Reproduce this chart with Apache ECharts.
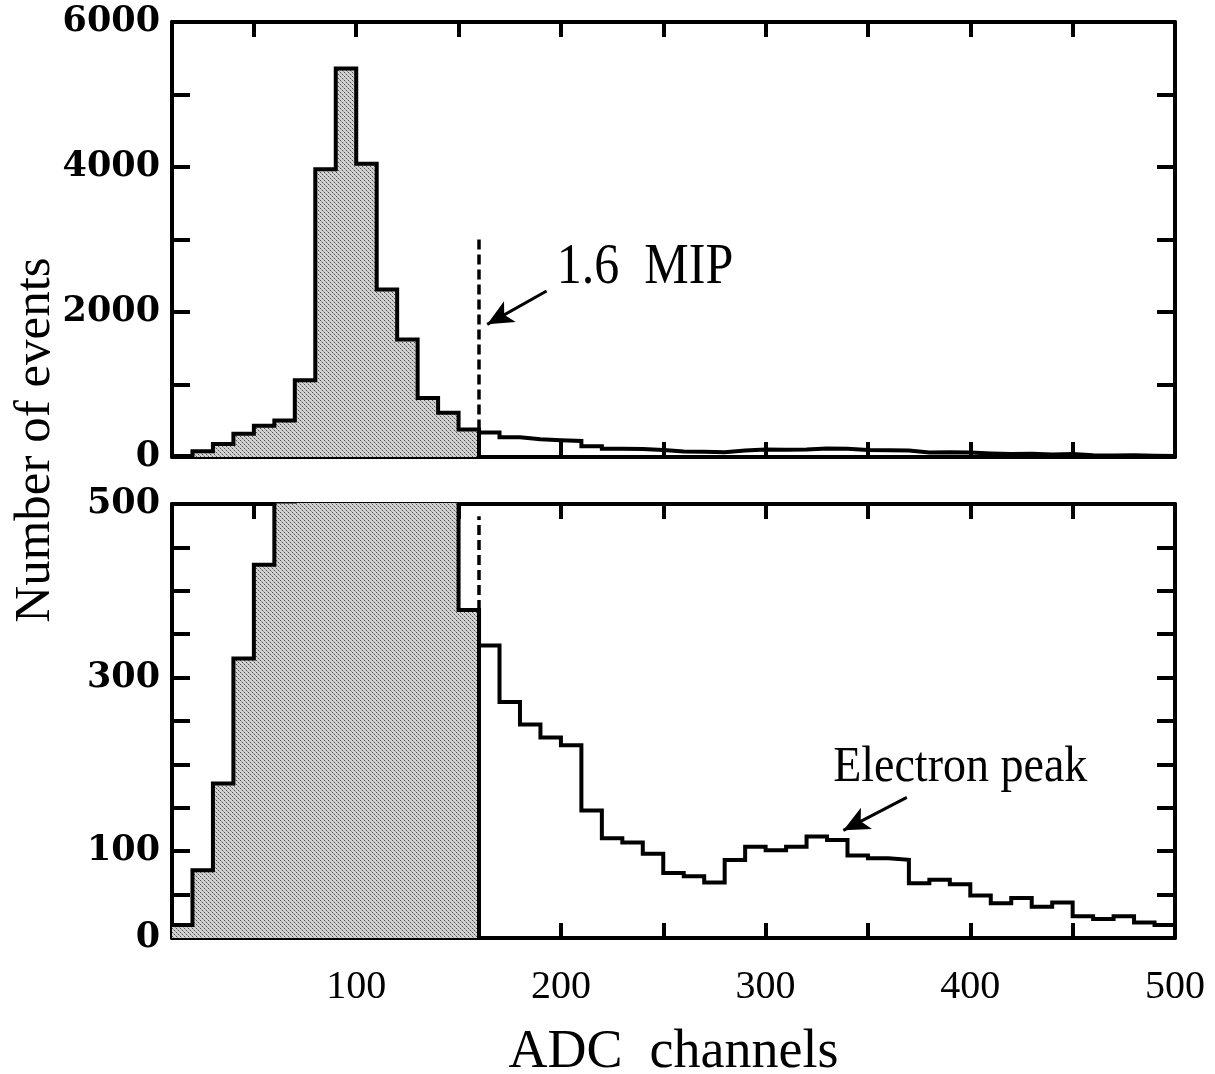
<!DOCTYPE html>
<html><head><meta charset="utf-8">
<script src="https://cdn.jsdelivr.net/npm/echarts@6/dist/echarts.min.js"></script>
<style>html,body{margin:0;padding:0;background:#fff}#c{width:1215px;height:1074px}</style>
</head><body><div id="c"></div>
<script>
// ---- data ----
const binLeft = [10,20,30,40,50,60,70,80,90,100,110,120,130,140,150,160,170,180,190,200,
  210,220,230,240,250,260,270,280,290,300,310,320,330,340,350,360,370,380,390,400,
  410,420,430,440,450,460,470,480,490];
const counts = [15,78,178,322,430,503,1057,3970,5360,4045,2310,1620,815,610,378,337,272,246,231,222,
  147,115,110,97,75,71,64,90,105,101,105,117,113,95,92,90,63,67,62,49,
  40,46,36,41,25,22,25,18,15];
const lastEdge = 500;
const cutChannel = 160;
const topDashEnd = 3000;
const bottomDashEnd = 486;
const xTickValues = [50,100,150,200,250,300,350,400,450,500];
const xLabelValues = [100,200,300,400,500];
const topYTicks = [0,1000,2000,3000,4000,5000,6000];
const topYLabels = [0,2000,4000,6000];
const bottomYTicks = [0,50,100,150,200,250,300,350,400,450,500];
const bottomYLabels = [0,100,300,500];
const mipText = '1.6  MIP';
const mipTextAt = [198, 2600];
const mipArrow = [[193, 2290], [164, 1830]];
const eText = 'Electron peak';
const eTextAt = [333, 197];
const eArrow = [[369, 162], [338, 124]];

// ---- build ----
const stepData = binLeft.map((x, i) => [x, counts[i]]).concat([[lastEdge, counts[counts.length - 1]]]);
const lastIn = binLeft.filter(x => x < cutChannel).length - 1;
const fillData = binLeft.slice(0, lastIn + 1).map((x, i) => [x, counts[i]]).concat([[cutChannel, counts[lastIn]]]);
const cutValue = counts[lastIn];

const pc = document.createElement('canvas'); pc.width = 4; pc.height = 4;
const g = pc.getContext('2d');
g.fillStyle = '#d2d2d2'; g.fillRect(0, 0, 4, 4);
g.fillStyle = '#4e4e4e'; g.fillRect(0, 0, 1, 1); g.fillRect(2, 2, 1, 1);
g.fillStyle = '#9a9a9a'; g.fillRect(1, 1, 1, 1); g.fillRect(3, 3, 1, 1);

const grids = [
  {left: 172, top: 22, width: 1003, height: 435, outerBoundsMode: 'none', containLabel: false},
  {left: 172, top: 504, width: 1003, height: 434, outerBoundsMode: 'none', containLabel: false}
];
const plain = v => String(v);
function xAx(grid, pos, labels, name) {
  return {type: 'value', gridIndex: grid, position: pos, min: 10, max: 500,
    name: name || '', nameLocation: 'middle', nameGap: 88,
    nameTextStyle: {fontFamily: 'Liberation Serif', fontSize: 54, color: '#000'},
    axisLine: {show: true, onZero: false, lineStyle: {color: '#000', width: 4}},
    axisTick: {show: true, inside: true, length: 15, customValues: xTickValues, lineStyle: {color: '#000', width: 4}},
    axisLabel: {show: labels, customValues: xLabelValues, formatter: plain, margin: 29, color: '#000', fontFamily: 'Liberation Serif', fontSize: 40},
    splitLine: {show: false}};
}
function yAx(grid, pos, max, ticks, labels, show) {
  return {type: 'value', gridIndex: grid, position: pos, min: 0, max: max,
    axisLine: {show: true, onZero: false, lineStyle: {color: '#000', width: 4}},
    axisTick: {show: true, inside: true, length: 18, customValues: ticks, lineStyle: {color: '#000', width: 4}},
    axisLabel: {show: show, customValues: labels, formatter: plain, margin: 12, color: '#000', fontFamily: 'DejaVu Serif', fontWeight: 'bold', fontSize: 35},
    splitLine: {show: false}};
}
function markLines(dashEnd, arrow) {
  const d = [
    [{coord: [cutChannel, 0], lineStyle: {type: 'solid', width: 4}}, {coord: [cutChannel, cutValue]}],
    [{coord: [cutChannel, cutValue], lineStyle: {type: [10, 5], width: 3.5}}, {coord: [cutChannel, dashEnd]}]
  ];
  if (arrow) d.push([{coord: arrow[0], lineStyle: {type: 'solid', width: 3}}, {coord: arrow[1], symbol: 'arrow', symbolSize: [18, 26]}]);
  return {silent: true, symbol: ['none', 'none'], label: {show: false}, animation: false,
    lineStyle: {color: '#000'}, data: d};
}
function fillSeries(xi, yi, dashEnd, arrow) {
  return {type: 'line', xAxisIndex: xi, yAxisIndex: yi, step: 'end', data: fillData, symbol: 'none',
    lineStyle: {opacity: 0}, areaStyle: {color: {image: pc, repeat: 'repeat'}, opacity: 1}, z: 1,
    markLine: markLines(dashEnd, arrow), animation: false, silent: true};
}
function outlineSeries(xi, yi) {
  return {type: 'line', xAxisIndex: xi, yAxisIndex: yi, step: 'end', data: stepData, symbol: 'none',
    lineStyle: {color: '#000', width: 4, join: 'miter', cap: 'square'}, z: 3, animation: false, silent: true};
}

const chart = echarts.init(document.getElementById('c'));
chart.setOption({
  animation: false,
  backgroundColor: '#fff',
  grid: grids,
  xAxis: [xAx(0, 'bottom', false), xAx(0, 'top', false), xAx(1, 'bottom', true, 'ADC  channels'), xAx(1, 'top', false)],
  yAxis: [yAx(0, 'left', 6000, topYTicks, topYLabels, true), yAx(0, 'right', 6000, topYTicks, topYLabels, false),
          yAx(1, 'left', 500, bottomYTicks, bottomYLabels, true), yAx(1, 'right', 500, bottomYTicks, bottomYLabels, false)],
  series: [fillSeries(0, 0, topDashEnd, mipArrow), outlineSeries(0, 0),
           fillSeries(2, 2, bottomDashEnd, eArrow), outlineSeries(2, 2)]
});
const pm = chart.convertToPixel({gridIndex: 0}, mipTextAt);
const pe = chart.convertToPixel({gridIndex: 1}, eTextAt);
chart.setOption({graphic: [
  {type: 'text', x: pm[0], y: pm[1], scaleY: 1.12, style: {text: mipText, fontFamily: 'Liberation Serif', fontSize: 50, fill: '#000', align: 'left', verticalAlign: 'middle'}},
  {type: 'text', x: pe[0], y: pe[1], scaleY: 1.12, style: {text: eText, fontFamily: 'Liberation Serif', fontSize: 46, fill: '#000', align: 'left', verticalAlign: 'middle'}},
  {type: 'text', x: 36, y: 440, rotation: Math.PI / 2, style: {text: 'Number of events', fontFamily: 'Liberation Serif', fontSize: 51, fill: '#000', align: 'center', verticalAlign: 'middle'}}
]});
</script></body></html>
